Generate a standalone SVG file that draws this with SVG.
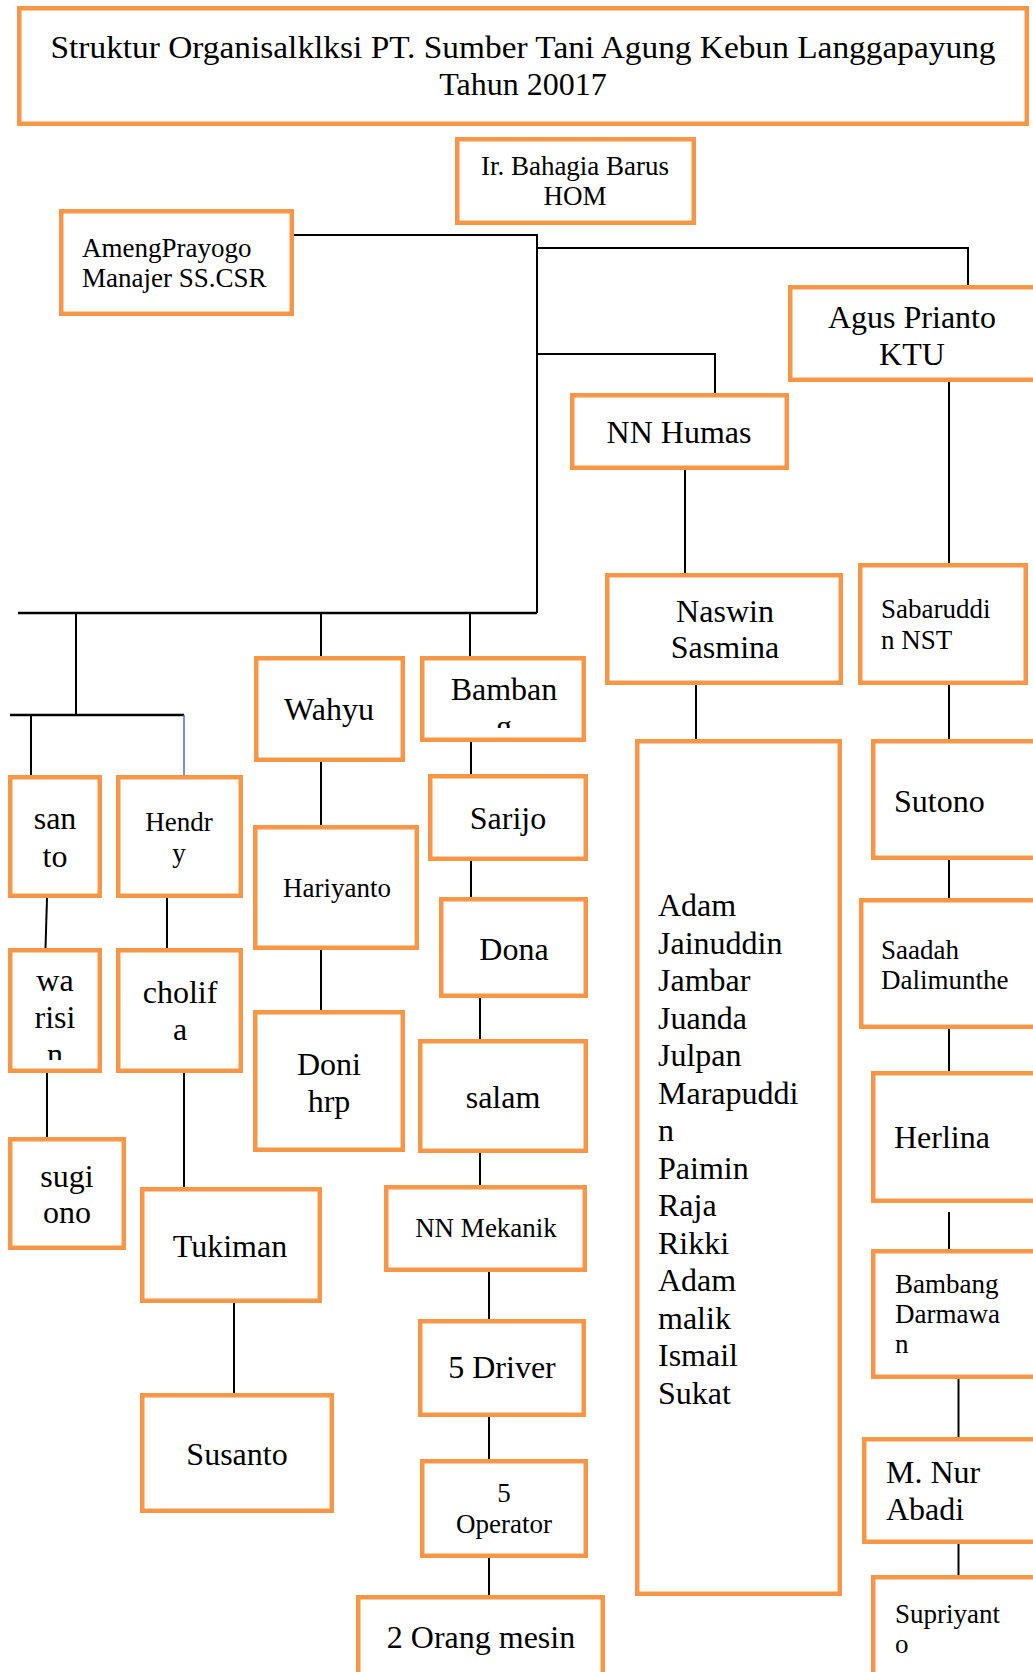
<svg xmlns="http://www.w3.org/2000/svg" width="1033" height="1672" viewBox="0 0 1033 1672">
<style>
.box{fill:#fff;stroke:#F79646;stroke-width:4.5}
text{font-family:"Liberation Serif","Times New Roman",serif;fill:#000}
.L{font-size:32px}
.M{font-size:27px}
.S{font-size:27px}
.c{text-anchor:middle}
.ln{fill:none;stroke:#000;stroke-width:2}
.bar{fill:none;stroke:#000;stroke-width:2.6}
</style>
<defs>
<clipPath id="clipW"><rect x="12" y="950" width="86" height="110"/></clipPath>
<clipPath id="clipB"><rect x="424" y="660" width="158" height="68"/></clipPath>
</defs>
<rect width="1033" height="1672" fill="#fff"/>

<g id="connectors">
<path class="ln" d="M294,235 H537 V613"/>
<path class="ln" d="M537,248 H968 V285"/>
<path class="ln" d="M537,354 H715 V393"/>
<path class="bar" d="M18,613 H537"/>
<path class="ln" d="M76,613 V715"/>
<path class="bar" d="M10,715 H184"/>
<path class="ln" d="M31,715 V775"/>
<path d="M184,715 V775" fill="none" stroke="#4472C4" stroke-width="1.5"/>
<path class="ln" d="M321,613 V656"/>
<path class="ln" d="M470,613 V656"/>
<path class="ln" d="M685,470 V573"/>
<path class="ln" d="M949,382 V563"/>
<path class="ln" d="M696,685 V739"/>
<path class="ln" d="M949,685 V739"/>
<path class="ln" d="M949,860 V898"/>
<path class="ln" d="M949,1029 V1071"/>
<path class="ln" d="M949,1212 V1249"/>
<path class="ln" d="M958.5,1379 V1437"/>
<path class="ln" d="M958.5,1544 V1575"/>
<path class="ln" d="M47,898 L45.5,948"/>
<path class="ln" d="M167,898 V948"/>
<path class="ln" d="M47,1073 V1137"/>
<path class="ln" d="M184,1073 V1187"/>
<path class="ln" d="M321,762 V825"/>
<path class="ln" d="M321,950 V1010"/>
<path class="ln" d="M471,742 V774"/>
<path class="ln" d="M471,861 V897"/>
<path class="ln" d="M480,998 V1039"/>
<path class="ln" d="M480,1153 V1185"/>
<path class="ln" d="M489,1272 V1319"/>
<path class="ln" d="M489,1417 V1459"/>
<path class="ln" d="M489,1558 V1595"/>
<path class="ln" d="M234,1303 V1393"/>
</g>

<g id="title"><rect class="box" x="19.25" y="8.25" width="1007.5" height="115.5"/>
<text class="L c" x="523" y="58" textLength="945" lengthAdjust="spacingAndGlyphs">Struktur Organisalklksi PT. Sumber Tani Agung Kebun Langgapayung</text>
<text class="L c" x="523" y="95">Tahun 20017</text></g>

<g id="hom"><rect class="box" x="457.25" y="139.25" width="236.5" height="83.5"/>
<text class="S c" x="575" y="175">Ir. Bahagia Barus</text>
<text class="S c" x="575" y="205">HOM</text></g>

<g id="ameng"><rect class="box" x="61.25" y="211.25" width="230.5" height="102.5"/>
<text class="S" x="82" y="257">AmengPrayogo</text>
<text class="S" x="82" y="287">Manajer SS.CSR</text></g>

<g id="agus"><rect class="box" x="790.25" y="287.25" width="260" height="92.5"/>
<text class="L c" x="912" y="328">Agus Prianto</text>
<text class="L c" x="912" y="365">KTU</text></g>

<g id="humas"><rect class="box" x="572.25" y="395.25" width="214.5" height="72.5"/>
<text class="L c" x="679" y="443">NN Humas</text></g>

<g id="naswin"><rect class="box" x="607.25" y="575.25" width="233.5" height="107.5"/>
<text class="L c" x="725" y="622">Naswin</text>
<text class="L c" x="725" y="658">Sasmina</text></g>

<g id="sabaruddin"><rect class="box" x="860.25" y="565.25" width="165.5" height="117.5"/>
<text class="M" x="881" y="618">Sabaruddi</text>
<text class="M" x="881" y="649">n NST</text></g>

<g id="wahyu"><rect class="box" x="256.25" y="658.25" width="146.5" height="101.5"/>
<text class="L c" x="329" y="720">Wahyu</text></g>

<g id="bambang"><rect class="box" x="422.25" y="658.25" width="161.5" height="81.5"/>
<g clip-path="url(#clipB)"><text class="L c" x="504" y="700">Bamban</text>
<text class="L c" x="504" y="737">g</text></g></g>

<g id="santo"><rect class="box" x="10.25" y="777.25" width="89.5" height="118.5"/>
<text class="L c" x="55" y="829">san</text>
<text class="L c" x="55" y="867">to</text></g>

<g id="hendry"><rect class="box" x="118.25" y="777.25" width="122.5" height="118.5"/>
<text class="M c" x="179" y="831">Hendr</text>
<text class="M c" x="179" y="862">y</text></g>

<g id="hariyanto"><rect class="box" x="255.25" y="827.25" width="161.5" height="120.5"/>
<text class="M c" x="337" y="897">Hariyanto</text></g>

<g id="sarijo"><rect class="box" x="430.25" y="776.25" width="155.5" height="82.5"/>
<text class="L c" x="508" y="829">Sarijo</text></g>

<g id="dona"><rect class="box" x="441.25" y="899.25" width="144.5" height="96.5"/>
<text class="L c" x="514" y="960">Dona</text></g>

<g id="group"><rect class="box" x="637.25" y="741.25" width="202.5" height="852.5"/>
<text class="L" x="658" y="916">Adam</text>
<text class="L" x="658" y="953.5">Jainuddin</text>
<text class="L" x="658" y="991">Jambar</text>
<text class="L" x="658" y="1028.5">Juanda</text>
<text class="L" x="658" y="1066">Julpan</text>
<text class="L" x="658" y="1103.5">Marapuddi</text>
<text class="L" x="658" y="1141">n</text>
<text class="L" x="658" y="1178.5">Paimin</text>
<text class="L" x="658" y="1216">Raja</text>
<text class="L" x="658" y="1253.5">Rikki</text>
<text class="L" x="658" y="1291">Adam</text>
<text class="L" x="658" y="1328.5">malik</text>
<text class="L" x="658" y="1366">Ismail</text>
<text class="L" x="658" y="1403.5">Sukat</text></g>

<g id="sutono"><rect class="box" x="873.25" y="741.25" width="200" height="116.5"/>
<text class="L" x="894" y="812">Sutono</text></g>

<g id="saadah"><rect class="box" x="861.25" y="900.25" width="200" height="126.5"/>
<text class="M" x="881" y="959">Saadah</text>
<text class="M" x="881" y="989">Dalimunthe</text></g>

<g id="warisin"><rect class="box" x="10.25" y="950.25" width="89.5" height="120.5"/>
<g clip-path="url(#clipW)"><text class="L c" x="55" y="991">wa</text>
<text class="L c" x="55" y="1028">risi</text>
<text class="L c" x="55" y="1065">n</text></g></g>

<g id="cholifa"><rect class="box" x="118.25" y="950.25" width="122.5" height="120.5"/>
<text class="L c" x="180" y="1003">cholif</text>
<text class="L c" x="180" y="1040">a</text></g>

<g id="doni"><rect class="box" x="255.25" y="1012.25" width="147.5" height="137.5"/>
<text class="L c" x="329" y="1075">Doni</text>
<text class="L c" x="329" y="1112">hrp</text></g>

<g id="salam"><rect class="box" x="420.25" y="1041.25" width="165.5" height="109.5"/>
<text class="L c" x="503" y="1108">salam</text></g>

<g id="herlina"><rect class="box" x="873.25" y="1073.25" width="200" height="127.5"/>
<text class="L" x="894" y="1148">Herlina</text></g>

<g id="sugiono"><rect class="box" x="10.25" y="1139.25" width="113.5" height="108.5"/>
<text class="L c" x="67" y="1187">sugi</text>
<text class="L c" x="67" y="1223">ono</text></g>

<g id="tukiman"><rect class="box" x="142.25" y="1189.25" width="177.5" height="111.5"/>
<text class="L c" x="230" y="1257">Tukiman</text></g>

<g id="mekanik"><rect class="box" x="386.25" y="1187.25" width="198.5" height="82.5"/>
<text class="S c" x="486" y="1237">NN Mekanik</text></g>

<g id="darmawan"><rect class="box" x="873.25" y="1251.25" width="200" height="125.5"/>
<text class="M" x="895" y="1293">Bambang</text>
<text class="M" x="895" y="1323">Darmawa</text>
<text class="M" x="895" y="1353">n</text></g>

<g id="driver"><rect class="box" x="420.25" y="1321.25" width="163.5" height="93.5"/>
<text class="L c" x="502" y="1378">5 Driver</text></g>

<g id="susanto"><rect class="box" x="142.25" y="1395.25" width="189.5" height="115.5"/>
<text class="L c" x="237" y="1465">Susanto</text></g>

<g id="nur"><rect class="box" x="864.25" y="1439.25" width="200" height="102.5"/>
<text class="L" x="886" y="1483">M. Nur</text>
<text class="L" x="886" y="1520">Abadi</text></g>

<g id="operator"><rect class="box" x="422.25" y="1461.25" width="163.5" height="94.5"/>
<text class="M c" x="504" y="1502">5</text>
<text class="M c" x="504" y="1533">Operator</text></g>

<g id="supriyanto"><rect class="box" x="873.25" y="1577.25" width="200" height="150"/>
<text class="M" x="895" y="1623">Supriyant</text>
<text class="M" x="895" y="1653">o</text></g>

<g id="mesin"><rect class="box" x="358.25" y="1597.25" width="244.5" height="150"/>
<text class="L c" x="481" y="1648">2 Orang mesin</text></g>
</svg>
